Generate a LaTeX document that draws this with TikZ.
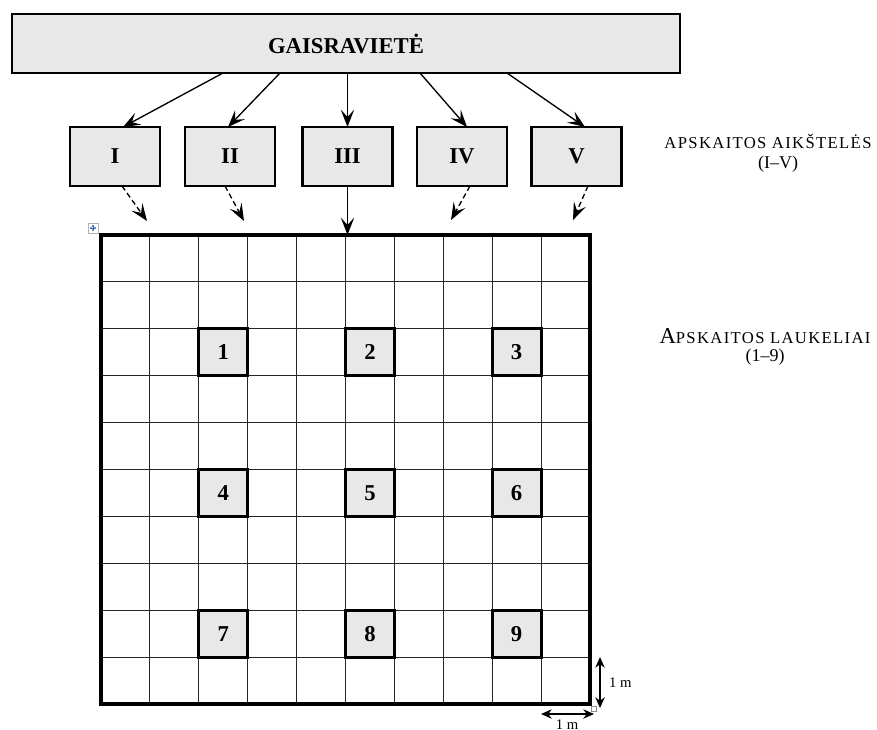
\documentclass[tikz,border=0pt]{standalone}
\usepackage{fontspec}
\setmainfont{Liberation Serif}
\newfontfamily\scfont[LetterSpace=8]{Liberation Serif}
\usetikzlibrary{arrows.meta}
\definecolor{boxgray}{HTML}{E8E8E8}
\definecolor{handleblue}{HTML}{3A64B0}
\begin{document}
\begin{tikzpicture}[x=0.75pt,y=-0.75pt,
  every node/.style={inner sep=0pt, outer sep=0pt},
  sitebox/.style={draw, line width=1.5pt, fill=boxgray,
    minimum width=501pt, minimum height=44.25pt,
    font=\bfseries\fontsize{17}{20}\selectfont},
  areabox/.style={draw, line width=1.6pt, fill=boxgray,
    minimum width=67.5pt, minimum height=44.25pt,
    font=\bfseries\fontsize{17}{20}\selectfont},
  plotbox/.style={draw, line width=2.2pt, fill=boxgray,
    minimum width=36.7pt, minimum height=35.2pt,
    font=\bfseries\fontsize{17}{20}\selectfont},
  gridline/.style={line width=0.8pt, black!85},
  fieldframe/.style={draw, line width=2.6pt,
    minimum width=366.75pt, minimum height=351.75pt},
  tip/.style={-{Stealth[length=13pt,width=10pt,inset=5.5pt]}, line width=1pt},
  dashtip/.style={tip, dash pattern=on 4pt off 2.5pt},
  scaletip/.style={{Stealth[length=8pt,width=7pt,inset=2.5pt]}-{Stealth[length=8pt,width=7pt,inset=2.5pt]},
    line width=1pt},
  unitlabel/.style={font=\fontsize{11}{13}\selectfont},
  rangelabel/.style={font=\fontsize{13.5}{16}\selectfont, anchor=base},
  sclabel/.style={anchor=base}]

\useasboundingbox (0,0) rectangle (877,729);
\fill[white] (0,0) rectangle (877,729);

% fire site
\node[sitebox] (site) at (346,43.5) {GAISRAVIETĖ};

% sampling areas I--V
\node[areabox] (a1) at (115,156.5)   {I};
\node[areabox] (a2) at (230,156.5)   {II};
\node[areabox] (a3) at (347.5,156.5) {III};
\node[areabox] (a4) at (462,156.5)   {IV};
\node[areabox] (a5) at (576.5,156.5) {V};

\draw[tip] ([xshift=-92.25pt]site.south) -- ([xshift=6pt]a1.north);
\draw[tip] ([xshift=-49.5pt]site.south)  -- ([xshift=-1.5pt]a2.north);
\draw[tip] (a3.north |- site.south)      -- (a3.north);
\draw[tip] ([xshift=55.5pt]site.south)   -- ([xshift=3.75pt]a4.north);
\draw[tip] ([xshift=120.75pt]site.south) -- ([xshift=6.4pt]a5.north);

% grid of 1 m cells
\foreach \i in {1,...,9} {
  \draw[gridline] ({101+\i*48.9},235) -- ({101+\i*48.9},704);
  \draw[gridline] (101,{235+\i*46.9}) -- (590,{235+\i*46.9});
}

% sampling plots 1--9
\foreach \r [count=\row from 0] in {2,5,8} {
  \foreach \c [count=\col from 1] in {2,5,8} {
    \pgfmathtruncatemacro{\n}{\row*3+\col}
    \node[plotbox] (p\n) at ({101+(\c+0.5)*48.9},{235+(\r+0.5)*46.9}) {\n};
  }
}

\node[fieldframe] (field) at (345.5,469.5) {};

% transfer from the areas to the field
\coordinate (d1) at (147,221);
\coordinate (d2) at (244,221);
\coordinate (d4) at (451,220);
\coordinate (d5) at (573,220);
\draw[dashtip] ([xshift=5.25pt]a1.south) -- (d1);
\draw[dashtip] ([xshift=-3.75pt]a2.south) -- (d2);
\draw[tip] (a3.south) -- (a3.south |- field.north);
\draw[dashtip] ([xshift=6pt]a4.south) -- (d4);
\draw[dashtip] ([xshift=8.6pt]a5.south) -- (d5);

% cell size
\coordinate (vt) at (600,657);
\coordinate (vb) at (600,708);
\coordinate (hl) at (541,714);
\coordinate (hr) at (594,714);
\draw[scaletip] (vt) -- (vb);
\draw[scaletip] (hl) -- (hr);
\node[unitlabel, anchor=west] (unitv) at (609,683) {1 m};
\node[unitlabel, anchor=north] (unith) at (567,720) {1 m};

% table handles
\draw[black!30, line width=0.4pt, fill=white] (88,223) rectangle (98,233);
\draw[handleblue, line width=0.5pt, {Latex[length=1.5pt,width=2pt]}-{Latex[length=1.5pt,width=2pt]}] (89.5,228) -- (96.5,228);
\draw[handleblue, line width=0.5pt, {Latex[length=1.5pt,width=2pt]}-{Latex[length=1.5pt,width=2pt]}] (93,224.5) -- (93,231.5);
\draw[black!45, line width=0.4pt, fill=white] (591,706) rectangle (596,711);

% legend
\node[sclabel] (lblareas) at (768,148)
  {\scfont\fontsize{12.5}{15}\selectfont APSKAITOS AIKŠTELĖS};
\node[rangelabel] (lblareasrange) at (778,168) {(I–V)};
\node[sclabel] (lblplots) at (765,343)
  {\scfont{\fontsize{17}{20}\selectfont A}\fontsize{12.5}{15}\selectfont PSKAITOS LAUKELIAI};
\node[rangelabel] (lblplotsrange) at (765,361) {(1–9)};
\end{tikzpicture}
\end{document}
